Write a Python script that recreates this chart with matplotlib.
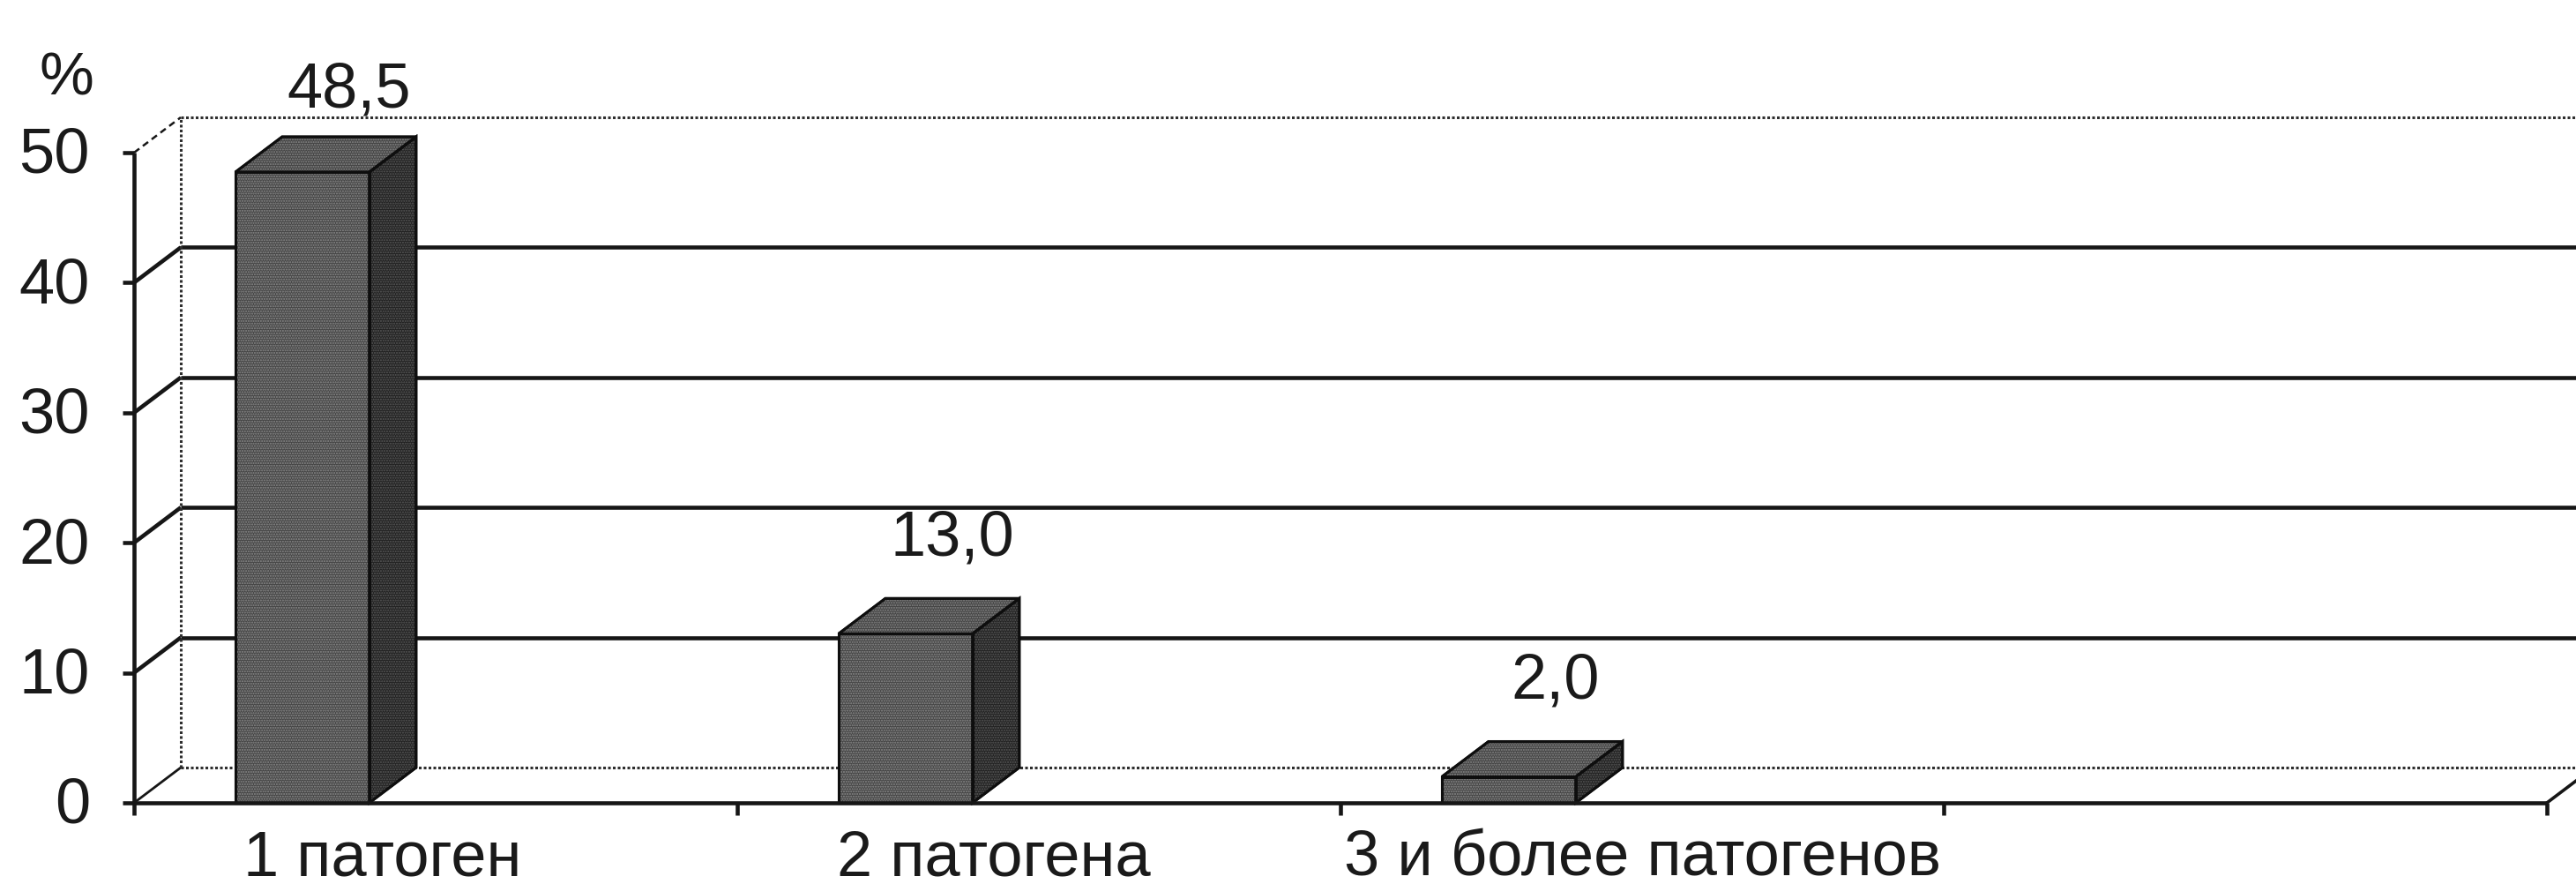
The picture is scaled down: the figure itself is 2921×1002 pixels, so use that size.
import matplotlib
matplotlib.use("Agg")
import matplotlib.pyplot as plt
from matplotlib.patches import Polygon

# ---- data -------------------------------------------------------------
categories = ["1 патоген", "2 патогена", "3 и более патогенов"]
values = [48.5, 13.0, 2.0]
value_labels = ["48,5", "13,0", "2,0"]
y_ticks = [0, 10, 20, 30, 40, 50]
y_tick_labels = ["0", "10", "20", "30", "40", "50"]
n_slots = 4          # category slots along the floor (last one is empty)
y_max = 50

plt.rcParams["font.family"] = ["Liberation Sans", "DejaVu Sans"]
FS = 52
TXT = "#1a1a1a"

# ---- figure / axes layout (pixels) -----------------------------------
W, H, DPI = 2921, 1003, 100
fig = plt.figure(figsize=(W / DPI, H / DPI), dpi=DPI)
fig.patch.set_facecolor("white")

left_px, right_px = 152, 2888      # front floor edge
y0_px, ytop_px = 911, 174          # front value 0 and 50
ax = fig.add_axes([left_px / W, 1 - y0_px / H,
                   (right_px - left_px) / W, (y0_px - ytop_px) / H])
ax.set_xlim(0, n_slots)
ax.set_ylim(0, y_max)
ax.axis("off")

px_x = n_slots / (right_px - left_px)      # data units per pixel (x)
px_y = y_max / (y0_px - ytop_px)           # data units per pixel (y)

# depth of the 3-D box
dx = 53 * px_x
dy = 40 * px_y

LINE = "#161616"
GRID_LW = 3.3
DOT = dict(color="#2e2e2e", lw=2.2, linestyle=(0, (1.0, 0.8)), clip_on=False)
SOLID = dict(color=LINE, lw=GRID_LW, solid_capstyle="butt", clip_on=False)

# ---- walls ------------------------------------------------------------
for v in y_ticks:
    if v in (0, y_max):
        ax.plot([dx, n_slots + dx + 1], [v + dy, v + dy], **DOT, zorder=1)
    else:
        ax.plot([dx, n_slots + dx + 1], [v + dy, v + dy], **SOLID, zorder=1)
    # side wall diagonals
    if v == y_max:
        ax.plot([0, dx], [v, v + dy], color=LINE, lw=1.8,
                linestyle=(0, (3, 2)), clip_on=False, zorder=1)
    elif v == 0:
        ax.plot([0, dx], [v, v + dy], color=LINE, lw=2.0, clip_on=False, zorder=1)
    else:
        ax.plot([0, dx], [v, v + dy], **SOLID, zorder=1)

# back wall left edge
ax.plot([dx, dx], [dy, y_max + dy], **DOT, zorder=1)

# ---- front axes -------------------------------------------------------
tick_x = 13 * px_x
tick_y = 14 * px_y
ax.plot([0, 0], [0, y_max], **SOLID, zorder=5)
for v, lab in zip(y_ticks, y_tick_labels):
    ax.plot([-tick_x, 0], [v, v], **SOLID, zorder=5)
    ax.text(-50 * px_x, v - 22 * px_y, lab, ha="right", va="baseline",
            fontsize=FS, color=TXT)

ax.plot([0, n_slots], [0, 0], **SOLID, zorder=5)
for k in range(n_slots + 1):
    ax.plot([k, k], [0, -tick_y], **SOLID, zorder=5)
ax.plot([n_slots, n_slots + dx], [0, dy], color=LINE, lw=2.6, clip_on=False, zorder=5)

label_shift = [-0.088, -0.075, 0.0]
for i, cat in enumerate(categories):
    ax.text(i + 0.5 + label_shift[i], -82 * px_y, cat, ha="center",
            va="baseline", fontsize=FS, color=TXT)

fig.text(75 / W, 1 - 108 / H, "%", ha="center", va="baseline",
         fontsize=FS - 2, color=TXT)

# ---- 3-D bars ---------------------------------------------------------
bar_off, bar_w = 0.168, 0.222
label_gap = 50 * px_y
label_ceiling = (y0_px - 122) * px_y

FRONT, TOP, SIDE = "#464646", "#444444", "#222222"
for i, (v, lab) in enumerate(zip(values, value_labels)):
    x0 = i + bar_off
    x1 = x0 + bar_w
    front = [(x0, 0), (x1, 0), (x1, v), (x0, v)]
    top = [(x0, v), (x1, v), (x1 + dx, v + dy), (x0 + dx, v + dy)]
    side = [(x1, 0), (x1 + dx, dy), (x1 + dx, v + dy), (x1, v)]
    for pts, col, hcol in ((front, FRONT, "#8c8c8c"), (top, TOP, "#888888"),
                           (side, SIDE, "#5a5a5a")):
        ax.add_patch(Polygon(pts, closed=True, facecolor=col,
                             edgecolor="#0e0e0e", lw=2.2, zorder=3,
                             joinstyle="miter", clip_on=False))
        ax.add_patch(Polygon(pts, closed=True, facecolor="none",
                             edgecolor=hcol, lw=0, hatch="......",
                             zorder=3.5, clip_on=False))
        ax.add_patch(Polygon(pts, closed=True, facecolor="none",
                             edgecolor="#0e0e0e", lw=2.2, zorder=3.6,
                             joinstyle="miter", clip_on=False))
    ly = min(v + dy + label_gap, label_ceiling)
    ax.text(x0 + bar_w / 2 + dx, ly, lab, ha="center", va="baseline",
            fontsize=FS, color=TXT)

fig.savefig("out.png", dpi=DPI, facecolor="white")
